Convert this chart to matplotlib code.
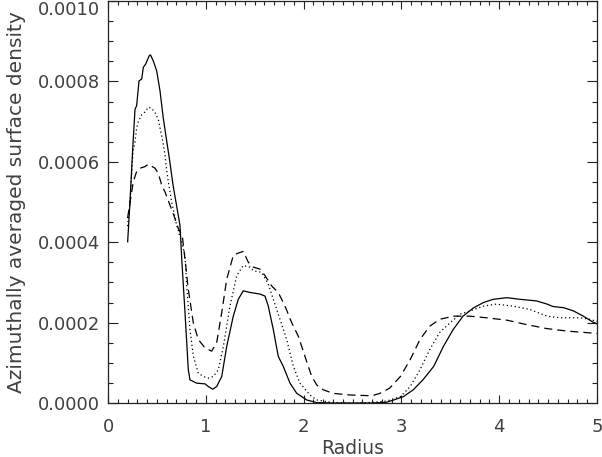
import numpy as np
import matplotlib
matplotlib.use('Agg')
import matplotlib.pyplot as plt
from matplotlib.ticker import MultipleLocator, FuncFormatter

# radius / density values (density in units of 1e-4)
r_solid = [0.201, 0.225, 0.253, 0.276, 0.293, 0.317, 0.345, 0.361, 0.385, 0.422, 0.434,
           0.463, 0.498, 0.532, 0.565, 0.600, 0.627, 0.665, 0.736, 0.754, 0.787, 0.821,
           0.838, 0.907, 0.992, 1.026, 1.071, 1.111, 1.163, 1.214, 1.281, 1.332, 1.383,
           1.452, 1.554, 1.605, 1.639, 1.690, 1.741, 1.792, 1.861, 1.929, 2.032, 2.134,
           2.30, 2.50, 2.70, 2.85, 2.92, 3.02, 3.12, 3.22, 3.33, 3.43, 3.53, 3.63, 3.74,
           3.84, 3.94, 4.08, 4.21, 4.38, 4.49, 4.55, 4.66, 4.76, 4.86, 4.96, 5.00]
d_solid = [4.01, 5.01, 6.34, 7.30, 7.40, 8.01, 8.06, 8.35, 8.43, 8.64, 8.66,
           8.51, 8.26, 7.76, 7.09, 6.52, 6.09, 5.42, 4.42, 3.58, 2.26, 0.83,
           0.576, 0.493, 0.476, 0.41, 0.343, 0.41, 0.66, 1.41, 2.16, 2.58, 2.79,
           2.75, 2.71, 2.66, 2.41, 1.83, 1.16, 0.91, 0.494, 0.243, 0.075, 0.01,
           0.0, 0.0, 0.0, 0.02, 0.075, 0.158, 0.326, 0.576, 0.91, 1.41, 1.83, 2.16, 2.37,
           2.50, 2.58, 2.62, 2.58, 2.54, 2.46, 2.40, 2.37, 2.29, 2.16, 2.01, 1.97]

r_dot = [0.200, 0.225, 0.241, 0.256, 0.276, 0.293, 0.310, 0.345, 0.378, 0.412, 0.447,
         0.481, 0.515, 0.539, 0.560, 0.583, 0.593, 0.617, 0.651, 0.702, 0.754, 0.787,
         0.805, 0.838, 0.873, 0.923, 0.975, 1.026, 1.077, 1.128, 1.180, 1.247, 1.316,
         1.383, 1.452, 1.486, 1.571, 1.639, 1.690, 1.759, 1.827, 1.895, 1.963, 2.065,
         2.134, 2.30, 2.50, 2.70, 2.85, 2.99, 3.09, 3.19, 3.29, 3.39, 3.50, 3.60, 3.70,
         3.84, 3.97, 4.14, 4.31, 4.49, 4.62, 4.83, 4.93, 5.00]
d_dot = [4.40, 5.00, 5.67, 6.27, 6.50, 6.84, 7.00, 7.17, 7.24, 7.36, 7.33,
         7.22, 7.05, 6.76, 6.51, 6.17, 5.92, 5.50, 5.00, 4.42, 4.00, 3.67,
         2.91, 1.83, 1.16, 0.744, 0.659, 0.618, 0.659, 0.827, 1.41, 2.41, 3.17,
         3.42, 3.38, 3.29, 3.25, 2.96, 2.58, 2.08, 1.58, 0.91, 0.494, 0.20,
         0.075, 0.01, 0.0, 0.015, 0.05, 0.158, 0.41, 0.827, 1.33, 1.75, 2.00, 2.21, 2.29,
         2.41, 2.46, 2.41, 2.33, 2.16, 2.12, 2.12, 2.08, 2.03]

r_dash = [0.200, 0.232, 0.258, 0.293, 0.327, 0.378, 0.412, 0.481, 0.515, 0.549, 0.583,
          0.634, 0.685, 0.719, 0.760, 0.787, 0.821, 0.872, 0.923, 0.992, 1.060, 1.111,
          1.163, 1.214, 1.281, 1.332, 1.383, 1.435, 1.486, 1.554, 1.605, 1.674, 1.741,
          1.810, 1.878, 1.946, 2.014, 2.083, 2.134, 2.20, 2.30, 2.47, 2.70, 2.78, 2.88,
          2.99, 3.09, 3.19, 3.29, 3.39, 3.53, 3.70, 3.87, 4.08, 4.28, 4.49, 4.69, 5.00]
d_dash = [4.60, 5.09, 5.50, 5.76, 5.84, 5.88, 5.94, 5.84, 5.71, 5.42, 5.25,
          4.92, 4.59, 4.34, 4.15, 3.58, 2.83, 2.00, 1.58, 1.37, 1.29, 1.50,
          2.25, 3.08, 3.67, 3.73, 3.77, 3.50, 3.38, 3.33, 3.17, 2.91, 2.75,
          2.41, 2.00, 1.66, 1.16, 0.66, 0.45, 0.33, 0.24, 0.20, 0.18, 0.24, 0.37,
          0.66, 1.08, 1.58, 1.91, 2.08, 2.16, 2.16, 2.12, 2.06, 1.95, 1.85, 1.79, 1.73]

scale = 1e-4
y_max = 0.0010

plt.rcParams['font.family'] = ['DejaVu Sans']
txt = '#404040'
axc = '#222222'

fig = plt.figure(figsize=(6.02, 4.57), dpi=100)
ax = fig.add_axes([108 / 602, 1 - 403 / 457, 489 / 602, 402 / 457])

ax.plot(r_solid, np.array(d_solid) * scale, color='black', lw=0.9, linestyle='-')
ax.plot(r_dot, np.array(d_dot) * scale, color='black', lw=0.9, linestyle=(0, (1, 2.2)))
ax.plot(r_dash, np.array(d_dash) * scale, color='black', lw=0.9, linestyle=(0, (6.5, 4)))

ax.set_xlim(0, 5)
ax.set_ylim(0, y_max)

ax.xaxis.set_major_locator(MultipleLocator(1))
ax.xaxis.set_minor_locator(MultipleLocator(0.1))
ax.yaxis.set_major_locator(MultipleLocator(0.0002))
ax.yaxis.set_minor_locator(MultipleLocator(0.00005))
# top label is drawn separately so it stays inside the figure
ax.yaxis.set_major_formatter(FuncFormatter(lambda v, p: '' if v > y_max * 0.99 else '%.4f' % v))

ax.tick_params(axis='x', which='major', direction='in', length=5.8, width=0.8,
               top=True, bottom=True, pad=11, labelsize=13, labelcolor=txt, color=axc)
ax.tick_params(axis='x', which='minor', direction='in', length=2.9, width=0.8,
               top=True, bottom=True, color=axc)
ax.tick_params(axis='y', which='major', direction='in', length=7.2, width=0.8,
               left=True, right=True, pad=5.5, labelsize=13, labelcolor=txt, color=axc)
ax.tick_params(axis='y', which='minor', direction='in', length=3.6, width=0.8,
               left=True, right=True, color=axc)

ax.annotate('%.4f' % y_max, xy=(0, 1), xycoords='axes fraction',
            xytext=(-5.5, -6.5), textcoords='offset points',
            ha='right', va='center', fontsize=13, color=txt)

for s in ax.spines.values():
    s.set_linewidth(0.9)
    s.set_color(axc)

ax.set_xlabel('Radius', fontsize=13.5, color=txt, labelpad=2)
ax.set_ylabel('Azimuthally averaged surface density', fontsize=14.5, color=txt, labelpad=9)

fig.savefig('out.png', dpi=100)
